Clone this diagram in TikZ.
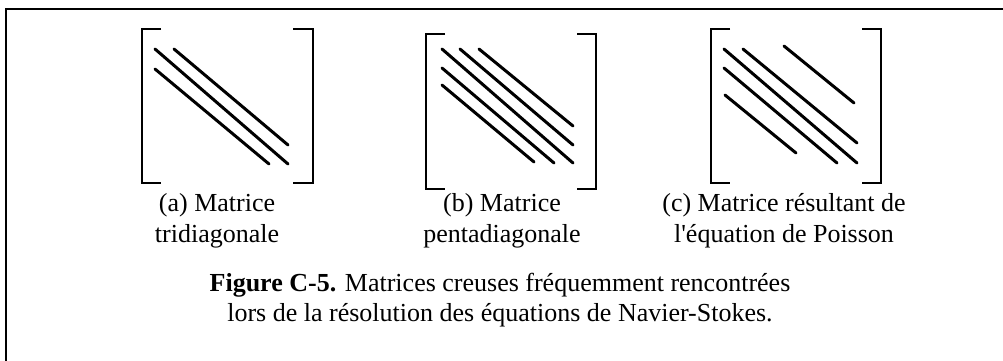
\documentclass[tikz,border=0pt]{standalone}
\usepackage{fontspec}
\setmainfont{Liberation Serif}
\begin{document}
\begin{tikzpicture}[x=1pt,y=-1pt,
  frameline/.style={line width=1.8pt},
  bracketline/.style={line width=2.4pt,line cap=butt,line join=miter},
  diagline/.style={line width=3pt,line cap=round},
  lbl/.style={align=center,font=\fontsize{26}{31}\selectfont,inner sep=0pt},
  captext/.style={align=center,font=\fontsize{26}{30}\selectfont,inner sep=0pt}]
\useasboundingbox (0,0) rectangle (1003,361);
% frame
\coordinate (fl) at (6,361);
\coordinate (fc) at (6,9);
\coordinate (fr) at (1003,9);
\draw[frameline] (fl) -- (fc) -- (fr);
% (a) tridiagonal
\draw[bracketline] (161,29) -- (142,29) -- (142,183) -- (161,183);
\draw[bracketline] (293,29) -- (313,29) -- (313,183) -- (293,183);
\draw[diagline] (155,49) -- (288,164);
\draw[diagline] (174,49) -- (288,145);
\draw[diagline] (155,69) -- (269,164);
% (b) pentadiagonal
\draw[bracketline] (445,34) -- (426,34) -- (426,189) -- (445,189);
\draw[bracketline] (577,34) -- (596,34) -- (596,189) -- (577,189);
\draw[diagline] (442,49) -- (573,163);
\draw[diagline] (460,49) -- (573,145);
\draw[diagline] (479,49) -- (573,126);
\draw[diagline] (442,68) -- (554,163);
\draw[diagline] (442,85) -- (534,162);
% (c) Poisson
\draw[bracketline] (730,29) -- (711,29) -- (711,183) -- (730,183);
\draw[bracketline] (862,29) -- (881,29) -- (881,183) -- (862,183);
\draw[diagline] (724,49) -- (857,163);
\draw[diagline] (743,49) -- (857,143);
\draw[diagline] (784,46) -- (854,103);
\draw[diagline] (724,68) -- (837,163);
\draw[diagline] (725,95) -- (796,153);
% labels
\node[lbl] (la) at (217,221) {(a) Matrice\\tridiagonale};
\node[lbl] (lb) at (502,221) {(b) Matrice\\pentadiagonale};
\node[lbl] (lc) at (784,221) {(c) Matrice résultant de\\l\textquotesingle équation de Poisson};
\node[captext] (caption) at (500,300) {\textbf{Figure C-5.} Matrices creuses fréquemment rencontrées\\lors de la résolution des équations de Navier-Stokes.};
\end{tikzpicture}
\end{document}
